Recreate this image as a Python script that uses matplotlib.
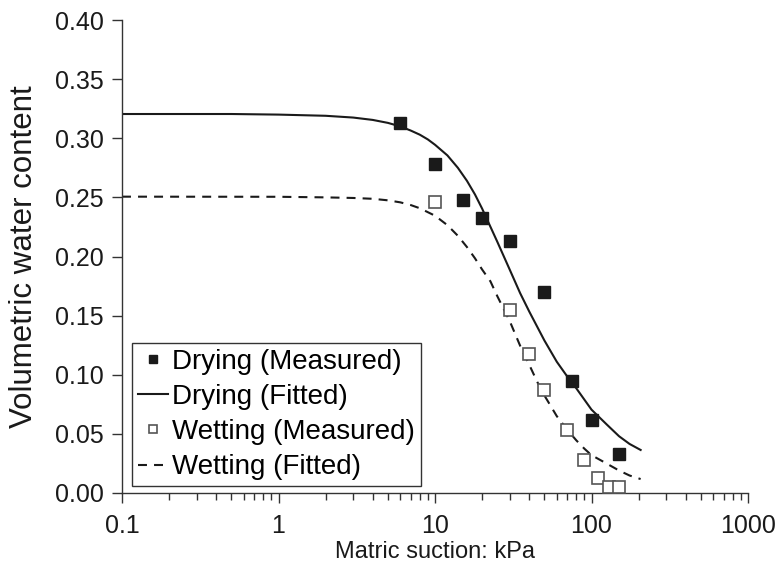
import matplotlib
matplotlib.use("Agg")
import matplotlib.pyplot as plt
from matplotlib.ticker import LogLocator, FixedLocator, NullFormatter

plt.rcParams['font.family'] = ['Liberation Sans', 'DejaVu Sans']

# Measured data
dry_x = [6, 10, 15, 20, 30, 50, 75, 100, 150]
dry_y = [0.313, 0.278, 0.248, 0.2325, 0.213, 0.170, 0.095, 0.0615, 0.0327]
wet_x = [10, 30, 40, 50, 70, 90, 110, 130, 150]
wet_y = [0.246, 0.155, 0.1175, 0.0868, 0.053, 0.0276, 0.013, 0.0053, 0.0053]

# Fitted curves
dry_fit_x = [0.1, 0.5, 1, 2, 3, 4, 5, 6, 7, 8, 9, 10, 12, 14, 16, 18, 20, 25, 30,
             35, 40, 50, 60, 70, 80, 100, 125, 150, 175, 206]
dry_fit_y = [0.3205, 0.3205, 0.3200, 0.3190, 0.3175, 0.3155, 0.3130, 0.3100, 0.3065,
             0.3030, 0.2990, 0.2945, 0.2855, 0.2750, 0.2640, 0.2525, 0.2405, 0.2125,
             0.1890, 0.1690, 0.1535, 0.1290, 0.1110, 0.0985, 0.0885, 0.0705, 0.0580,
             0.0480, 0.0415, 0.0364]
wet_fit_x = [0.1, 1, 2, 3, 4, 5, 6, 7, 8, 10, 12, 14, 16, 18, 20, 22.6, 25, 30, 35,
             40, 45, 50, 60, 70, 80, 90, 100, 120, 150, 175, 206]
wet_fit_y = [0.2506, 0.2505, 0.2500, 0.2495, 0.2488, 0.2475, 0.2458, 0.2435, 0.2408,
             0.2345, 0.2265, 0.2175, 0.2080, 0.1985, 0.1890, 0.1790, 0.1665, 0.1455,
             0.1245, 0.1085, 0.0940, 0.0825, 0.0650, 0.0535, 0.0445, 0.0375, 0.0320,
             0.0262, 0.0190, 0.0148, 0.0118]

x_ticks = [0.1, 1, 10, 100, 1000]
x_tick_labels = ['0.1', '1', '10', '100', '1000']
y_ticks = [0.0, 0.05, 0.10, 0.15, 0.20, 0.25, 0.30, 0.35, 0.40]
y_tick_labels = ['0.00', '0.05', '0.10', '0.15', '0.20', '0.25', '0.30', '0.35', '0.40']

fig = plt.figure(figsize=(7.81, 5.74), dpi=100)
ax = fig.add_axes([122/781, 1 - 493/574, (748 - 122)/781, (493 - 20)/574])

ink = '#1a1a1a'
ax.plot(dry_x, dry_y, linestyle='none', marker='s', markersize=8,
        markerfacecolor=ink, markeredgecolor=ink, label='Drying (Measured)', zorder=3)
ax.plot(dry_fit_x, dry_fit_y, color=ink, lw=1.5, label='Drying (Fitted)', zorder=2)
ax.plot(wet_x, wet_y, linestyle='none', marker='s', markersize=8,
        markerfacecolor='white', markeredgecolor='#555555', markeredgewidth=1.2,
        label='Wetting (Measured)', zorder=3)
ax.plot(wet_fit_x, wet_fit_y, color=ink, lw=1.5, linestyle=(0, (4.3, 3.4)),
        label='Wetting (Fitted)', zorder=2)

ax.set_xscale('log')
ax.set_xlim(0.1, 1000)
ax.set_ylim(0, 0.40)
ax.xaxis.set_major_locator(FixedLocator(x_ticks))
ax.set_xticklabels(x_tick_labels)
ax.xaxis.set_minor_locator(LogLocator(base=10, subs=range(2, 10)))
ax.xaxis.set_minor_formatter(NullFormatter())
ax.set_yticks(y_ticks)
ax.set_yticklabels(y_tick_labels)

for s in ['top', 'right']:
    ax.spines[s].set_visible(False)
for s in ['left', 'bottom']:
    ax.spines[s].set_color('#333333')
    ax.spines[s].set_linewidth(1.0)

ax.tick_params(axis='both', which='major', labelsize=18, colors=ink, direction='out')
ax.tick_params(axis='x', which='major', length=7, width=1.0, color='#333333', pad=8)
ax.tick_params(axis='x', which='minor', length=5, width=1.0, color='#333333')
ax.tick_params(axis='y', which='major', length=7, width=1.0, color='#333333', pad=6)

ax.set_xlabel('Matric suction: kPa', fontsize=17, color=ink, labelpad=2)
ax.set_ylabel('Volumetric water content', fontsize=22.5, color=ink)
ax.yaxis.set_label_coords((39 - 122) / 626, 0.5)

leg = ax.legend(loc='lower left', bbox_to_anchor=(0.016, 0.015), fontsize=20,
                frameon=True, fancybox=False, edgecolor='#333333', framealpha=1,
                handlelength=1.1, handletextpad=0.15, borderpad=0.2, labelspacing=0.33,
                markerscale=0.7, borderaxespad=0)
leg.get_frame().set_linewidth(1.0)

fig.savefig('out.png', dpi=100)
